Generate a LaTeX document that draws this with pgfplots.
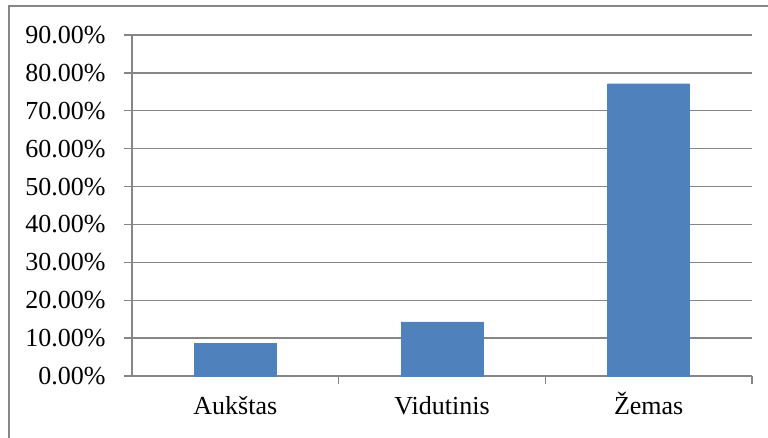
\documentclass[border=0pt]{standalone}
\usepackage{pgfplots}
\pgfplotsset{compat=1.18}
\usepackage{fontspec}
\setmainfont{Liberation Serif}
\definecolor{barblue}{HTML}{4F81BD}
\definecolor{gridgray}{HTML}{868686}
\begin{document}
\begin{tikzpicture}[x=1pt,y=1pt]
\useasboundingbox (0,0) rectangle (768,437);
\draw[gridgray, line width=1.3pt] (9,-20) -- (9,431) -- (790,431);
\begin{axis}[
    at={(132pt,61pt)}, anchor=south west,
    scale only axis, width=620pt, height=341pt,
    xmin=-0.5, xmax=2.5, ymin=0, ymax=90,
    axis x line=bottom, axis y line=left,
    axis line style={-, gridgray, line width=1.3pt},
    tick align=outside,
    major tick length=8pt,
    tick style={gridgray, line width=1.3pt},
    ymajorgrids, grid style={gridgray, line width=1.3pt},
    ytick={0,10,...,90},
    yticklabels={0.00\%,10.00\%,20.00\%,30.00\%,40.00\%,50.00\%,60.00\%,70.00\%,80.00\%,90.00\%},
    yticklabel style={xshift=-15pt},
    xtick={0.5,1.5,2.5}, xticklabels={},
    extra x ticks={0,1,2},
    extra x tick labels={Aukštas,Vidutinis,Žemas},
    extra x tick style={major tick length=0pt, grid=none,
        xticklabel style={anchor=base, yshift=-38pt}},
    tick label style={font=\fontsize{26}{30}\selectfont, text=black},
    ybar, bar width=82pt,
    clip=false,
]
\addplot[fill=barblue, draw=barblue] coordinates {(0,8.57) (1,14.29) (2,77.14)};
\end{axis}
\end{tikzpicture}
\end{document}
